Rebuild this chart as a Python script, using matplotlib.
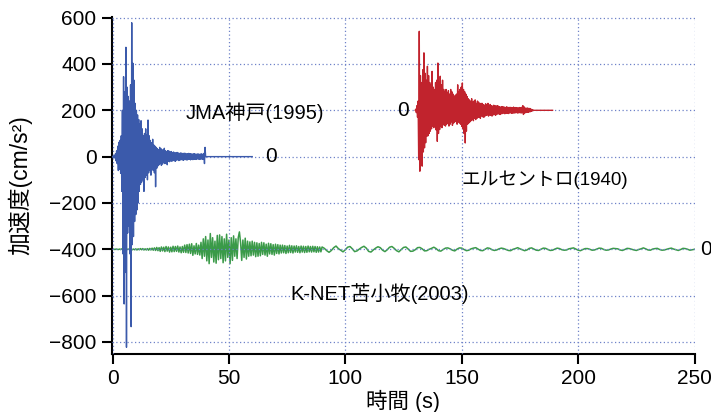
import numpy as np
import matplotlib
matplotlib.use("Agg")
import matplotlib.pyplot as plt

plt.rcParams['font.family'] = ['Liberation Sans', 'Noto Sans CJK JP', 'DejaVu Sans']

# ---------------- data ----------------
# JMA Kobe (1995): start 0 s, step 0.25 s, record flat to 60 s, offset 0
kobe_start = 0.0
kobe_dt = 0.25
kobe_end = 60.0
kobe_offset = 0
kobe_vals = [0, 2, -3, 4, -6, 12, -18, 25, -30, 45,
             -60, 62, -55, 70, -72, 90, -150, 200, -420, 345,
             -636, 280, -500, 472, -823, 300, -330, 260, -300, 240,
             -420, 310, -734, 578, -380, 403, -345, 330, -280, 230,
             -250, 200, -230, 180, -200, 160, -150, 140, -120, 155,
             -110, 120, -100, 90, -150, 100, -90, 120, -80, 95,
             -100, 158, -70, 90, -60, 70, -80, 60, -55, 75,
             -60, 50, -70, 45, -130, 40, -50, 35, -40, 30,
             -35, 40, -30, 35, -38, 28, -32, 30, -25, 36,
             -30, 25, -28, 22, -35, 26, -20, 24, -22, 20,
             -18, 22, -20, 18, -16, 20, -18, 15, -20, 17,
             -15, 18, -14, 16, -17, 14, -15, 16, -13, 15,
             -14, 12, -16, 15, -12, 14, -13, 12, -15, 13,
             -12, 14, -11, 13, -14, 12, -12, 11, -13, 12,
             -11, 13, -12, 10, -12, 11, -10, 12, -11, 10,
             -12, 11, -10, 12, -11, 10, -12, 14, -30, 40,
             0]

# El Centro (1940): start 130 s, step 0.25 s, flat to 189 s, offset +200
elc_start = 130.0
elc_dt = 0.25
elc_end = 189.0
elc_offset = 200
elc_vals = [0, 5, -10, 20, -30, 40, -213, 341, -263, 150,
            -200, 120, -241, 175, -180, 248, -162, 160, -140, 130,
            -112, 190, -110, 150, -100, 120, -90, 110, -80, 168,
            -68, 100, -75, 90, -60, 120, -85, 130, -134, 204,
            -100, 120, -83, 147, -70, 110, -75, 130, -60, 90,
            -65, 80, -68, 90, -60, 75, -55, 85, -68, 70,
            -60, 90, -50, 80, -65, 70, -55, 60, -50, 65,
            -45, 70, -60, 110, -50, 80, -55, 90, -60, 100,
            -70, 118, -80, 90, -100, 80, -141, 70, -90, 60,
            -60, 50, -55, 45, -50, 40, -45, 50, -40, 35,
            -45, 40, -35, 45, -40, 30, -35, 40, -30, 35,
            -30, 28, -35, 30, -25, 30, -28, 25, -30, 22,
            -25, 28, -22, 25, -20, 30, -25, 22, -20, 25,
            -22, 20, -25, 18, -20, 22, -18, 20, -22, 18,
            -18, 20, -15, 18, -16, 15, -18, 14, -15, 16,
            -14, 15, -12, 14, -15, 12, -13, 15, -12, 13,
            -14, 12, -12, 13, -11, 12, -13, 11, -12, 14,
            -12, 10, -11, 12, -10, 11, -12, 10, -11, 12,
            -10, 11, -12, 13, -10, 20, -18, 15, -12, 10,
            -10, 9, -8, 10, -9, 8, -7, 8, -6, 5,
            -4, 3, -2, 1, 0]

# K-NET Tomakomai (2003): offset -400
knet_offset = -400
knet_early_start = 0.0
knet_early_dt = 0.5
knet_early_vals = [0, 1, -1, 1, 0, -1, 1, -1, 2, -1,
                   1, -2, 2, -1, 1, -2, 2, -2, 1, -2,
                   2, -3, 2, -2, 3, -2, 3, -3, 2, -3,
                   3, -4, 4, -3, 5, -4,
                   6, -5, 8, -6, 7, -9, 10, -7, 9, -10,
                   12, -8, 10, -12, 9, -11, 13, -10, 12, -9,
                   14, -12, 10, -15, 12, -13, 18, -14, 20, -16,
                   22, -18, 24, -26, 15, -20, 25, -22, 18, -25,
                   30, -40, 45, -30, 55, -50, 40, -62, 68, -35,
                   50, -55, 35, -60, 60, -45, 62, -40, 55, -58,
                   45, -50, 65, -35, 40, -62, 50, -48, 58, -30,
                   45, -40, 50, 75, 30, -48, 40, -35, 48, -42,
                   35, -30, 32, -28, 35, -25, 30, -32, 28, -30,
                   25, -28, 30, -22, 28, -25, 22, -30, 26, -20,
                   24, -22, 20, -25, 22, -18, 20, -20, 18, -16,
                   18, -15, 16, -18, 14, -15, 17, -14, 15, -16,
                   14, -12, 15, -13, 12, -15, 14, -12, 13, -14,
                   12, -13, 14, -11, 12, -12, 13, -11, 12, -13,
                   11, -12, 10, -11]
knet_late_start = 90.0
knet_late_dt = 1.0
knet_late_vals = [10, 4, -6, -13, -5, 7, 14, 3, -4, -11,
                  -2, 9, 12, 2, -10, -7, 1, 8, 13, 5,
                  -9, -12, -3, 5, 11, 7, -4, -10, -2, 9,
                  12, 4, -6, -11, -1, 8, 10, 1, -9, -8,
                  -2, 7, 8, 2, -7, -6, 0, 4, 9, 3,
                  -6, -8, -1, 5, 6, 2, -4, -7, 1, 6,
                  5, -1, -6, -4, 2, 5, 7, 1, -5, -6,
                  0, 6, 4, -2, -5, -3, 2, 5, 3, -1,
                  -5, -6, 0, 3, 7, 2, -2, -6, -3, 4,
                  6, 1, -4, -5, 0, 5, 4, -1, -5, -4,
                  1, 5, 3, -2, -4, -3, 2, 4, 6, 1,
                  -4, -6, -1, 3, 3, 0, -4, -3, 1, 5,
                  4, -1, -4, -3, 1, 4, 3, 2, -3, -5,
                  -1, 4, 3, 0, -3, -5, -1, 2, 6, 2,
                  -3, -4, 1, 3, 4, -1, -4, -3, 0, 3,
                  5, 1, -2, -5, -1, 4, 3, 0, -4, -2,
                  0]

x_ticks = [0, 50, 100, 150, 200, 250]
y_ticks = [-800, -600, -400, -200, 0, 200, 400, 600]

labels = {
    'kobe': 'JMA神戸(1995)',
    'elc': 'エルセントロ(1940)',
    'knet': 'K-NET苫小牧(2003)',
}

# ---------------- build series ----------------
def series(start, dt, vals, end=None):
    v = np.asarray(vals, dtype=float)
    t = start + dt * np.arange(len(v))
    if end is not None and t[-1] < end:
        t = np.append(t, end)
        v = np.append(v, 0.0)
    return t, v

kt, kv = series(kobe_start, kobe_dt, kobe_vals, kobe_end)
et, ev = series(elc_start, elc_dt, elc_vals, elc_end)
gt1, gv1 = series(knet_early_start, knet_early_dt, knet_early_vals)
gt2, gv2 = series(knet_late_start, knet_late_dt, knet_late_vals)
gt = np.concatenate([gt1, gt2])
gv = np.concatenate([gv1, gv2])

BLUE = '#3b5aab'
RED = '#c1232d'
GREEN = '#3a9a48'
GRID = '#6f82c8'

fig = plt.figure(figsize=(7.11, 4.12), dpi=100)
ax = fig.add_axes([0.1571, 0.1408, 0.8208, 0.8175])

ax.plot(gt, gv + knet_offset, color=GREEN, lw=1.1, zorder=2)
ax.plot(kt, kv + kobe_offset, color=BLUE, lw=1.0, zorder=3)
ax.plot(et, ev + elc_offset, color=RED, lw=1.0, zorder=3)

ax.set_xlim(-0.35, 250.3)
ax.set_ylim(-852, 602)
ax.set_xticks(x_ticks)
ax.set_yticks(y_ticks)

ax.grid(True, linestyle=(0, (1, 2)), color=GRID, lw=0.9)
ax.set_axisbelow(False)

for s in ['top', 'right']:
    ax.spines[s].set_visible(False)
for s in ['left', 'bottom']:
    ax.spines[s].set_linewidth(1.5)
ax.tick_params(axis='both', direction='out', length=7, width=1.5,
               labelsize=15, pad=4)

ax.set_xlabel('時間 (s)', fontsize=15.5, labelpad=1)
ax.set_ylabel('加速度(cm/s²)', fontsize=16.5, labelpad=12)

ax.text(31.5, 188, labels['kobe'], fontsize=14.5, va='center', ha='left')
ax.text(65.5, kobe_offset, '0', fontsize=15, va='center', ha='left')
ax.text(127.5, elc_offset, '0', fontsize=15, va='center', ha='right')
ax.text(150, -100, labels['elc'], fontsize=13.5, va='center', ha='left')
ax.text(76.5, -593, labels['knet'], fontsize=14.5, va='center', ha='left')
ax.text(252.5, knet_offset, '0', fontsize=15, va='center', ha='left',
        clip_on=False)

fig.savefig('out.png', dpi=100)
